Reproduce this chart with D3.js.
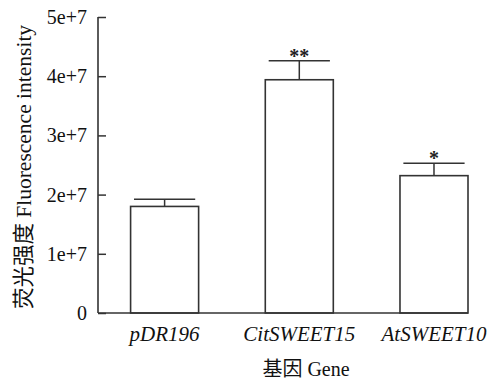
<!DOCTYPE html>
<html><head><meta charset="utf-8">
<script src="https://cdn.jsdelivr.net/npm/d3@7"></script>
<style>body{margin:0;background:#fff} svg text{font-family:"Liberation Serif","Times New Roman",Times,"Noto Sans CJK SC",serif !important;}</style>
</head><body>
<svg id="c" width="492" height="380"></svg>
<script>
const categories = ["pDR196", "CitSWEET15", "AtSWEET10"];
const values = [1.80e7, 3.94e7, 2.32e7];
const errors = [0.12e7, 0.32e7, 0.21e7];
const marks = ["", "**", "*"];
const yTicks = [0, 1e7, 2e7, 3e7, 4e7, 5e7];
const yTickLabels = ["0", "1e+7", "2e+7", "3e+7", "4e+7", "5e+7"];
const yTitle = "荧光强度 Fluorescence intensity";
const xTitle = "基因 Gene";

const svg = d3.select("#c");
const col = "#333";
const y = d3.scaleLinear().domain([0, 5e7]).range([313, 17]);
const x = d3.scaleBand().domain(categories).range([98, 468])
  .paddingInner(0.495).paddingOuter(0.121).align(1);

// bars
svg.selectAll("rect.bar").data(values).join("rect")
  .attr("x", (d, i) => x(categories[i]))
  .attr("y", d => y(d))
  .attr("width", x.bandwidth())
  .attr("height", d => y(0) - y(d))
  .attr("fill", "#fff").attr("stroke", col).attr("stroke-width", 1.6);

// error bars
const cap = x.bandwidth() * 0.45;
values.forEach((v, i) => {
  const cx = x(categories[i]) + x.bandwidth() / 2;
  svg.append("line").attr("x1", cx).attr("x2", cx)
    .attr("y1", y(v)).attr("y2", y(v + errors[i]))
    .attr("stroke", col).attr("stroke-width", 1.5);
  svg.append("line").attr("x1", cx - cap).attr("x2", cx + cap)
    .attr("y1", y(v + errors[i])).attr("y2", y(v + errors[i]))
    .attr("stroke", col).attr("stroke-width", 1.5);
  if (marks[i]) svg.append("text").attr("x", cx).attr("y", y(v + errors[i]) + 2)
    .attr("text-anchor", "middle")
    .attr("font-size", 20).attr("font-weight", "bold").attr("fill", "#222").text(marks[i]);
});

// y axis
const yAxis = svg.append("g").attr("transform", "translate(98,0)")
  .call(d3.axisRight(y).tickValues(yTicks).tickSize(8)
    .tickFormat((d, i) => yTickLabels[i]));
yAxis.select(".domain").attr("d", "M0,17V313").attr("stroke", col).attr("stroke-width", 1.6);
yAxis.selectAll(".tick line").attr("stroke", col).attr("stroke-width", 1.5);
yAxis.selectAll(".tick text").attr("x", -11).attr("text-anchor", "end")
  .attr("font-size", 20).attr("fill", "#111");

// x axis
const xAxis = svg.append("g").attr("transform", "translate(0,313)")
  .call(d3.axisBottom(x).tickSize(0).tickPadding(13));
xAxis.select(".domain").attr("d", "M98,0H468").attr("stroke", col).attr("stroke-width", 1.6);
xAxis.selectAll(".tick text").attr("font-size", 21)
  .attr("font-style", "italic").attr("fill", "#111");

svg.append("text").attr("transform", "translate(31,167) rotate(-90)")
  .attr("text-anchor", "middle").attr("font-size", 21.5)
  .attr("fill", "#111").text(yTitle);
svg.append("text").attr("x", 306).attr("y", 376).attr("text-anchor", "middle")
  .attr("font-size", 20).attr("fill", "#111").text(xTitle);
</script>
</body></html>
